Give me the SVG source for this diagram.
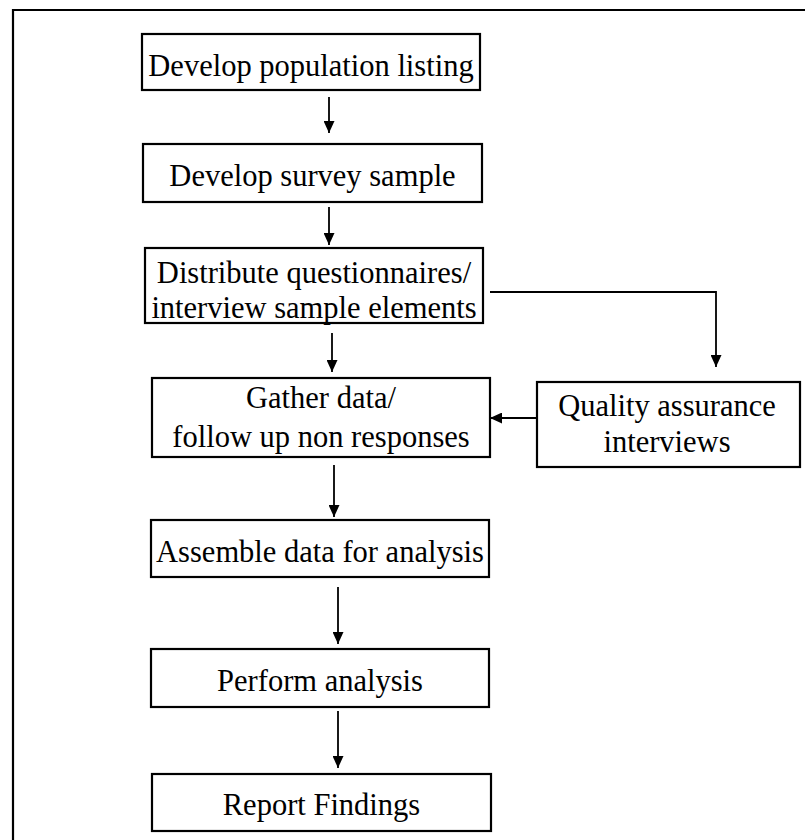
<svg xmlns="http://www.w3.org/2000/svg" width="805" height="840" viewBox="0 0 805 840">
  <style>
    .box { fill: #ffffff; stroke: #000000; stroke-width: 2.2; }
    .lbl { font-family: "Liberation Serif", "Times New Roman", serif; font-size: 30.5px; fill: #000000; text-anchor: middle; }
    .conn { fill: none; stroke: #000000; stroke-width: 1.8; }
    .frame { fill: none; stroke: #000000; stroke-width: 2.2; }
  </style>
  <defs>
    <marker id="arrow" markerUnits="userSpaceOnUse" markerWidth="12" markerHeight="11" refX="12" refY="5.5" orient="auto">
      <path d="M0,0 L12,5.5 L0,11 Z" fill="#000000"/>
    </marker>
  </defs>
  <rect x="0" y="0" width="805" height="840" fill="#ffffff"/>
  <path class="frame" d="M13,840 V10 H805"/>

  <g id="connectors">
    <line class="conn" x1="329" y1="97" x2="329" y2="133" marker-end="url(#arrow)"/>
    <line class="conn" x1="329" y1="207" x2="329" y2="245" marker-end="url(#arrow)"/>
    <line class="conn" x1="332" y1="333" x2="332" y2="372" marker-end="url(#arrow)"/>
    <path class="conn" d="M490,292 H716 V367" marker-end="url(#arrow)"/>
    <line class="conn" x1="537" y1="418" x2="490" y2="418" marker-end="url(#arrow)"/>
    <line class="conn" x1="334" y1="465" x2="334" y2="517" marker-end="url(#arrow)"/>
    <line class="conn" x1="338" y1="587" x2="338" y2="644" marker-end="url(#arrow)"/>
    <line class="conn" x1="338" y1="711" x2="338" y2="768" marker-end="url(#arrow)"/>
  </g>

  <g id="n1">
    <rect class="box" x="142" y="34" width="338" height="56"/>
    <text class="lbl" x="311" y="76">Develop population listing</text>
  </g>
  <g id="n2">
    <rect class="box" x="143" y="144" width="339" height="58"/>
    <text class="lbl" x="312.5" y="186">Develop survey sample</text>
  </g>
  <g id="n3">
    <rect class="box" x="145" y="248" width="338" height="75"/>
    <text class="lbl" x="314" y="283">Distribute questionnaires/</text>
    <text class="lbl" x="314" y="318">interview sample elements</text>
  </g>
  <g id="n4">
    <rect class="box" x="152" y="378" width="338" height="79"/>
    <text class="lbl" x="321" y="408">Gather data/</text>
    <text class="lbl" x="321" y="447">follow up non responses</text>
  </g>
  <g id="n5">
    <rect class="box" x="537" y="382" width="263" height="85"/>
    <text class="lbl" x="667" y="416">Quality assurance</text>
    <text class="lbl" x="667" y="452">interviews</text>
  </g>
  <g id="n6">
    <rect class="box" x="151" y="520" width="338" height="57"/>
    <text class="lbl" x="320" y="562">Assemble data for analysis</text>
  </g>
  <g id="n7">
    <rect class="box" x="151" y="649" width="338" height="58"/>
    <text class="lbl" x="320" y="691">Perform analysis</text>
  </g>
  <g id="n8">
    <rect class="box" x="152" y="774" width="339" height="57"/>
    <text class="lbl" x="321.5" y="815">Report Findings</text>
  </g>
</svg>
